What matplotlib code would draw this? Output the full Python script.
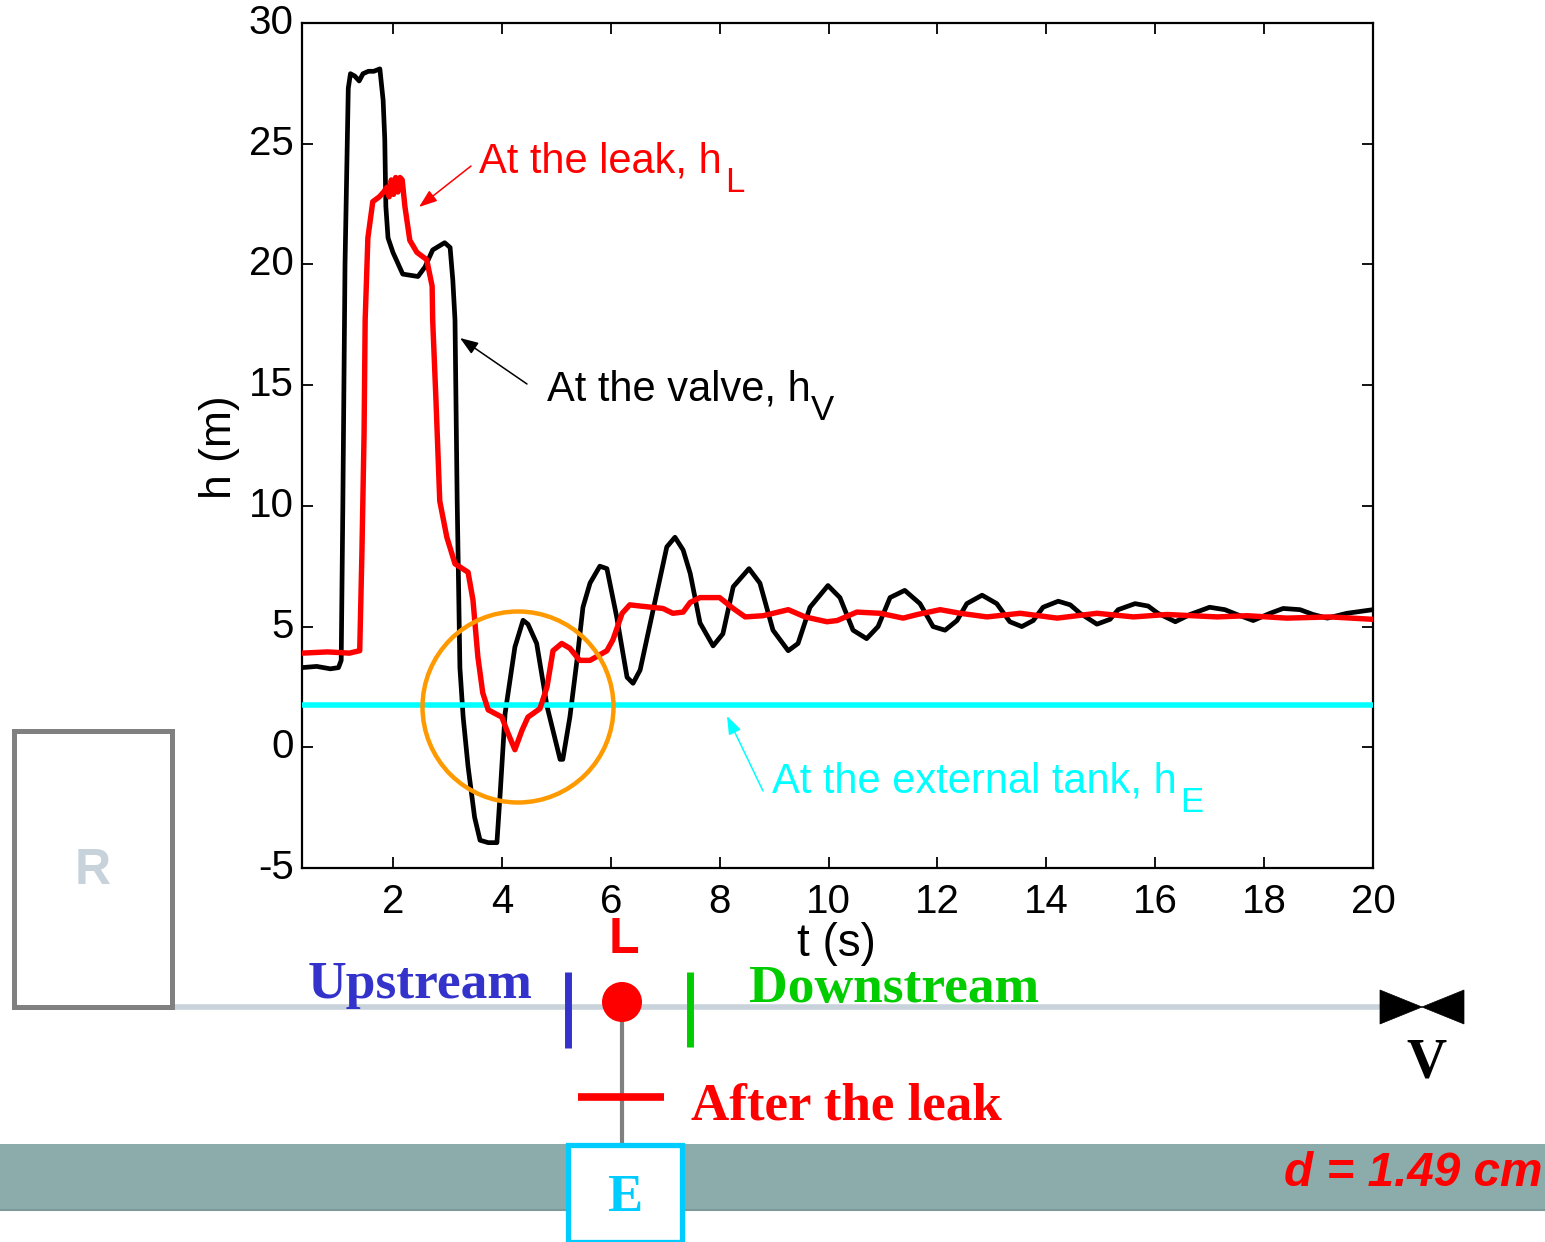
import matplotlib
matplotlib.use('Agg')
import matplotlib.pyplot as plt
from matplotlib.patches import Rectangle, Ellipse, Polygon

W, H = 1545, 1242
SANS = 'Liberation Sans'
SERIF = 'Liberation Serif'

t_valve = [0.33,0.6,0.85,1.0,1.05,1.08,1.12,1.18,1.22,1.3,1.38,1.45,1.55,1.65,1.76,1.82,1.85,1.87,1.91,2.0,2.18,2.46,2.59,2.73,2.95,3.05,3.1,3.14,3.18,3.2,3.23,3.29,3.38,3.5,3.6,3.75,3.91,3.97,4.06,4.24,4.39,4.48,4.64,4.83,5.07,5.12,5.25,5.38,5.49,5.62,5.8,5.93,6.11,6.3,6.41,6.54,6.78,7.03,7.18,7.33,7.46,7.64,7.88,8.06,8.25,8.54,8.74,8.98,9.26,9.44,9.66,9.99,10.21,10.45,10.7,10.91,11.13,11.4,11.68,11.92,12.14,12.36,12.54,12.82,13.09,13.33,13.55,13.76,13.94,14.22,14.44,14.62,14.93,15.17,15.32,15.63,15.87,16.05,16.37,16.64,17.0,17.28,17.5,17.8,18.11,18.35,18.66,18.9,19.16,19.52,20.0]
h_valve = [3.3,3.35,3.25,3.3,3.6,10,20,27.3,27.9,27.8,27.6,27.9,28.0,28.0,28.1,26.8,25.2,22.4,21.1,20.5,19.6,19.5,19.9,20.6,20.9,20.7,19.35,17.7,10.2,7.5,3.3,1.25,-0.8,-2.9,-3.85,-3.95,-3.95,-1.9,1.4,4.15,5.26,5.1,4.3,1.7,-0.5,-0.5,1.25,3.6,5.8,6.8,7.5,7.4,5.4,2.9,2.65,3.2,5.7,8.3,8.7,8.17,7.2,5.15,4.2,4.7,6.65,7.4,6.8,4.85,4.0,4.3,5.8,6.7,6.2,4.85,4.5,5.0,6.2,6.5,5.95,5.0,4.85,5.25,5.95,6.3,5.95,5.2,5.0,5.25,5.8,6.05,5.9,5.55,5.1,5.3,5.7,5.95,5.85,5.55,5.2,5.5,5.8,5.7,5.5,5.25,5.55,5.75,5.7,5.5,5.35,5.55,5.7]

t_leak = [0.33,0.8,1.2,1.39,1.43,1.47,1.49,1.54,1.63,1.75,1.83,1.89,1.93,1.97,2.01,2.05,2.09,2.13,2.17,2.22,2.31,2.44,2.62,2.72,2.73,2.79,2.86,2.99,3.14,3.38,3.47,3.56,3.65,3.75,4.0,4.11,4.24,4.37,4.48,4.7,4.83,4.94,5.1,5.25,5.43,5.62,5.93,6.04,6.21,6.35,6.54,6.96,7.14,7.33,7.46,7.64,8.0,8.25,8.47,8.8,9.26,9.57,9.97,10.16,10.52,10.95,11.37,11.63,12.05,12.42,12.91,13.52,14.2,14.93,15.6,16.22,17.14,17.69,18.42,19.21,20.0]
h_leak = [3.9,3.95,3.9,4,8,13,17.7,21.1,22.6,22.8,23.0,23.2,22.8,23.5,22.9,23.6,23.0,23.6,23.5,22.4,21,20.5,20.2,19.1,17.7,14.4,10.2,8.7,7.6,7.25,6.1,3.75,2.25,1.55,1.25,0.6,-0.1,0.7,1.25,1.6,2.5,4.0,4.3,4.1,3.6,3.6,4.0,4.45,5.55,5.9,5.85,5.75,5.55,5.6,6.0,6.2,6.2,5.75,5.4,5.45,5.7,5.4,5.2,5.25,5.6,5.55,5.35,5.5,5.7,5.55,5.4,5.55,5.35,5.55,5.4,5.5,5.4,5.45,5.35,5.4,5.3]

t_tank = [0.33, 20.0]
h_tank = [1.75, 1.75]

x_ticks = [2,4,6,8,10,12,14,16,18,20]
y_ticks = [-5,0,5,10,15,20,25,30]
y_tick_labels = ['-5','0','5','10','15','20','25','30']

fig = plt.figure(figsize=(W/100, H/100), dpi=100)
ax = fig.add_axes([302/W, 1-868/H, (1373-302)/W, (868-23)/H])
ax.plot(t_valve, h_valve, color='black', lw=3.4, zorder=2, solid_joinstyle='round')
ax.plot(t_tank, h_tank, color='#00ffff', lw=4.0, zorder=3)
ax.plot(t_leak, h_leak, color='#ff0000', lw=3.9, zorder=4, solid_joinstyle='round')
ax.set_xlim(0.33, 20)
ax.set_ylim(-5, 30)
ax.set_xticks(x_ticks)
ax.set_yticks(y_ticks)
ax.set_yticklabels(y_tick_labels)
ax.tick_params(direction='in', length=8, width=1.3, top=True, right=True, labelsize=29)
ax.tick_params(axis='y', pad=6)
ax.tick_params(axis='x', pad=11)
for lab in ax.get_xticklabels() + ax.get_yticklabels():
    lab.set_family(SANS)
for lab in ax.get_yticklabels():
    lab.set_verticalalignment('center')
for s in ax.spines.values():
    s.set_linewidth(1.6)

ov = fig.add_axes([0, 0, 1, 1], facecolor='none')
ov.set_xlim(0, W)
ov.set_ylim(H, 0)
ov.axis('off')

def T(x, y, s, color='black', size=30, family=SANS, ha='left', va='baseline', **kw):
    ov.text(x, y, s, color=color, fontsize=size, family=family, ha=ha, va=va, **kw)

def arrow(x0, y0, x1, y1, color):
    ov.annotate('', xy=(x1, y1), xytext=(x0, y0),
                arrowprops=dict(arrowstyle='-|>,head_length=0.55,head_width=0.2', color=color, lw=1.1,
                                shrinkA=0, shrinkB=0, mutation_scale=20))

T(836, 956, 't (s)', ha='center', size=33)
T(219, 447, 'h (m)', ha='center', va='center', rotation=90, size=32)

T(479, 172, 'At the leak, h', '#ff0000')
T(725, 192, 'L', '#ff0000', size=25)
arrow(471, 166, 419, 207, '#ff0000')
T(547, 400, 'At the valve, h', 'black')
T(811, 420, 'V', 'black', size=25)
arrow(527, 384, 460, 338, 'black')
T(772, 792, 'At the external tank, h', '#00ffff')
T(1180, 812, 'E', '#00ffff', size=25)
arrow(763, 791, 727, 716, '#00ffff')

ov.add_patch(Ellipse((518, 707), 191, 191, fill=False, ec='#ff9900', lw=3.2, zorder=6))

# Diagram
ov.add_patch(Rectangle((0, 1144), W, 66, fc='#8cacac', ec='none', zorder=1))
ov.plot([0, W], [1210, 1210], color='#7c9a9a', lw=1.5, zorder=1)
ov.plot([172, 1385], [1007, 1007], color='#c8d2da', lw=4, solid_capstyle='butt', zorder=1)
ov.add_patch(Rectangle((14, 731), 158, 276, fc='white', ec='#808080', lw=3.6, zorder=2))
T(93, 871, 'R', '#c8d2da', size=36, ha='center', va='center', weight='bold', zorder=5)
T(624, 953, 'L', '#ff0000', size=36, ha='center', weight='bold')
T(308, 998, 'Upstream', '#3333cc', size=38.5, family=SERIF, weight='bold')
T(749, 1002, 'Downstream', '#00cc00', size=38.5, family=SERIF, weight='bold')
T(691, 1119, 'After the leak', '#ff0000', size=38.2, family=SERIF, weight='bold')
T(1426, 1077, 'V', 'black', size=40, family=SERIF, weight='bold', ha='center')
ov.plot([567.5, 567.5], [972, 1048], color='#3333cc', lw=5, solid_capstyle='butt', zorder=3)
ov.plot([690, 690], [972, 1047], color='#00cc00', lw=5, solid_capstyle='butt', zorder=3)
ov.plot([621.5, 621.5], [1010, 1146], color='#808080', lw=3, solid_capstyle='butt', zorder=2)
ov.add_patch(Ellipse((622, 1002), 40, 40, fc='#ff0000', ec='none', zorder=4))
ov.plot([578, 664], [1096.5, 1096.5], color='#ff0000', lw=5.5, solid_capstyle='butt', zorder=3)
ov.add_patch(Rectangle((568, 1145), 114, 97, fc='white', ec='#00ccff', lw=3.8, zorder=3))
T(625, 1211, 'E', '#00ccff', size=38, family=SERIF, weight='bold', ha='center', zorder=5)
ov.add_patch(Polygon([(1380, 990), (1464, 1024), (1464, 990), (1380, 1024)], closed=True, fc='black', ec='black', lw=0.5, zorder=4))
T(1543, 1186, 'd = 1.49 cm', '#ff0000', size=34.4, weight='bold', style='italic', ha='right', zorder=5)

fig.savefig('out.png', dpi=100)
